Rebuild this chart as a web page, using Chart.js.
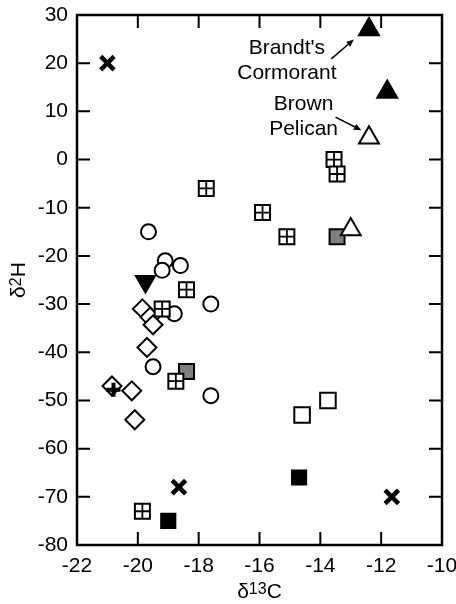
<!DOCTYPE html>
<html>
<head>
<meta charset="utf-8">
<script src="https://cdn.jsdelivr.net/npm/chart.js@4"></script>
<style>
  html, body { margin: 0; padding: 0; background: #fff; }
  #wrap { width: 456px; height: 604px; }
</style>
</head>
<body>
<div id="wrap"><canvas id="chart"></canvas></div>
<script>
const xTicks = [-22, -20, -18, -16, -14, -12, -10];
const yTicks = [30, 20, 10, 0, -10, -20, -30, -40, -50, -60, -70, -80];

// [δ13C, δ2H] pairs per symbol
const crosses = [[-21, 20], [-18.65, -68], [-11.65, -70]];
const filledUp = [[-12.4, 27], [-11.8, 14]];
const openUp = [[-12.4, 4.5], [-13, -14.5]];
const gridSquares = [[-17.75, -6], [-15.9, -11], [-15.1, -16], [-13.55, 0], [-13.45, -3],
  [-18.4, -27], [-19.2, -31], [-18.75, -46], [-19.85, -73]];
const graySquares = [[-13.45, -16], [-18.4, -44]];
const blackSquares = [[-19, -75], [-14.7, -66]];
const openSquares = [[-14.6, -53], [-13.75, -50]];
const circles = [[-19.65, -15], [-19.1, -21], [-19.2, -23], [-18.6, -22], [-17.6, -30],
  [-18.8, -32], [-19.5, -43], [-17.6, -49]];
const diamonds = [[-19.85, -31], [-19.6, -32.7], [-19.5, -34.3], [-19.7, -39],
  [-20.85, -47], [-20.2, -48], [-20.1, -54]];
const downTri = [[-19.75, -25.3]];
const plus = [[-20.8, -47.8]];

// labels with arrows, in data units
const notes = [
  { lines: ["Brandt's", "Cormorant"], x: -15.1, y: [23.2, 18.0], from: [-13.64, 20.9], to: [-12.9, 24.9] },
  { lines: ["Brown", "Pelican"], x: -14.55, y: [11.5, 6.4], from: [-13.5, 8.8], to: [-12.65, 6.1] },
];

const FONT = '"Liberation Sans", Arial, sans-serif';
const pts = (arr) => arr.map(([x, y]) => ({ x, y }));

function series(data, style, opts) {
  return Object.assign({
    data: pts(data),
    pointStyle: style,
    borderColor: "#000",
    backgroundColor: "#fff",
    borderWidth: 2,
    pointRadius: 8,
  }, opts);
}

function noPad(s) {
  s.paddingLeft = s.paddingRight = s.paddingTop = s.paddingBottom = 0;
}

const frame = {
  id: "frame",
  afterDraw(chart) {
    const { ctx, chartArea: a, scales } = chart;
    const len = 13;
    ctx.save();
    ctx.strokeStyle = "#000";
    ctx.lineWidth = 2;
    ctx.beginPath();
    xTicks.slice(1, -1).forEach((v) => {
      const px = scales.x.getPixelForValue(v);
      ctx.moveTo(px, a.bottom); ctx.lineTo(px, a.bottom - len);
      ctx.moveTo(px, a.top); ctx.lineTo(px, a.top + len);
    });
    yTicks.slice(1, -1).forEach((v) => {
      const py = scales.y.getPixelForValue(v);
      ctx.moveTo(a.left, py); ctx.lineTo(a.left + len, py);
      ctx.moveTo(a.right, py); ctx.lineTo(a.right - len, py);
    });
    ctx.stroke();
    ctx.lineWidth = 2.5;
    ctx.strokeRect(a.left, a.top, a.right - a.left, a.bottom - a.top);

    // axis titles with small raised digits
    const title = (parts) => {
      let w = 0;
      parts.forEach((p) => { ctx.font = p[1] + "px " + FONT; w += ctx.measureText(p[0]).width; });
      let cx = -w / 2;
      parts.forEach((p) => {
        ctx.font = p[1] + "px " + FONT;
        ctx.fillText(p[0], cx, p[2]);
        cx += ctx.measureText(p[0]).width;
      });
    };
    ctx.fillStyle = "#000";
    ctx.textBaseline = "alphabetic";
    ctx.textAlign = "left";
    ctx.save();
    ctx.translate((a.left + a.right) / 2, 598);
    title([["δ", 21, 0], ["13", 16, -4], ["C", 21, 0]]);
    ctx.restore();
    ctx.save();
    ctx.translate(25, (a.top + a.bottom) / 2);
    ctx.rotate(-Math.PI / 2);
    title([["δ", 21, 0], ["2", 16, -4], ["H", 21, 0]]);
    ctx.restore();

    // annotations
    ctx.font = "21px " + FONT;
    ctx.textAlign = "center";
    ctx.textBaseline = "middle";
    ctx.lineWidth = 1.5;
    notes.forEach((n) => {
      const tx = scales.x.getPixelForValue(n.x);
      n.lines.forEach((s, i) => ctx.fillText(s, tx, scales.y.getPixelForValue(n.y[i])));
      const x0 = scales.x.getPixelForValue(n.from[0]), y0 = scales.y.getPixelForValue(n.from[1]);
      const x1 = scales.x.getPixelForValue(n.to[0]), y1 = scales.y.getPixelForValue(n.to[1]);
      const ang = Math.atan2(y1 - y0, x1 - x0);
      ctx.beginPath();
      ctx.moveTo(x0, y0);
      ctx.lineTo(x1 - 6 * Math.cos(ang), y1 - 6 * Math.sin(ang));
      ctx.stroke();
      ctx.beginPath();
      ctx.moveTo(x1, y1);
      ctx.lineTo(x1 - 8 * Math.cos(ang - 0.4), y1 - 8 * Math.sin(ang - 0.4));
      ctx.lineTo(x1 - 8 * Math.cos(ang + 0.4), y1 - 8 * Math.sin(ang + 0.4));
      ctx.closePath();
      ctx.fill();
    });
    ctx.restore();
  },
};

const tickFont = { family: FONT, size: 21 };

new Chart(document.getElementById("chart"), {
  type: "scatter",
  data: {
    datasets: [
      // first dataset is drawn on top
      series(gridSquares, "cross", { pointRadius: 7.5, borderWidth: 1.8 }),
      series(gridSquares, "rect", { pointRadius: 10.6 }),
      series(plus, "cross", { pointRadius: 7, borderWidth: 4 }),
      series(diamonds, "rectRot", { pointRadius: 9.5 }),
      series(circles, "circle", { pointRadius: 7.5 }),
      series(downTri, "triangle", { pointRadius: 11, rotation: 180, backgroundColor: "#000" }),
      series(openUp, "triangle", { pointRadius: 11.5 }),
      series(filledUp, "triangle", { pointRadius: 11.5, backgroundColor: "#000" }),
      series(graySquares, "rect", { pointRadius: 10.6, backgroundColor: "#7f7f7f" }),
      series(blackSquares, "rect", { pointRadius: 10, backgroundColor: "#000" }),
      series(openSquares, "rect", { pointRadius: 11 }),
      series(crosses, "crossRot", { pointRadius: 9.5, borderWidth: 4.5 }),
    ],
  },
  options: {
    responsive: true,
    maintainAspectRatio: false,
    animation: false,
    events: [],
    layout: { padding: { top: 15, right: 13, left: 0, bottom: 0 } },
    plugins: {
      legend: { display: false },
      tooltip: { enabled: false },
    },
    scales: {
      x: {
        type: "linear",
        min: -22,
        max: -10,
        afterBuildTicks: (s) => { s.ticks = xTicks.map((v) => ({ value: v })); },
        afterFit: (s) => { s.height = 59; noPad(s); },
        grid: { display: false, drawTicks: false },
        border: { display: false },
        ticks: { font: tickFont, color: "#000", padding: 9, maxRotation: 0, autoSkip: false },
      },
      y: {
        type: "linear",
        min: -80,
        max: 30,
        afterBuildTicks: (s) => { s.ticks = yTicks.map((v) => ({ value: v })); },
        afterFit: (s) => { s.width = 77; noPad(s); },
        grid: { display: false, drawTicks: false },
        border: { display: false },
        ticks: { font: tickFont, color: "#000", padding: 9, autoSkip: false },
      },
    },
  },
  plugins: [frame],
});
</script>
</body>
</html>
